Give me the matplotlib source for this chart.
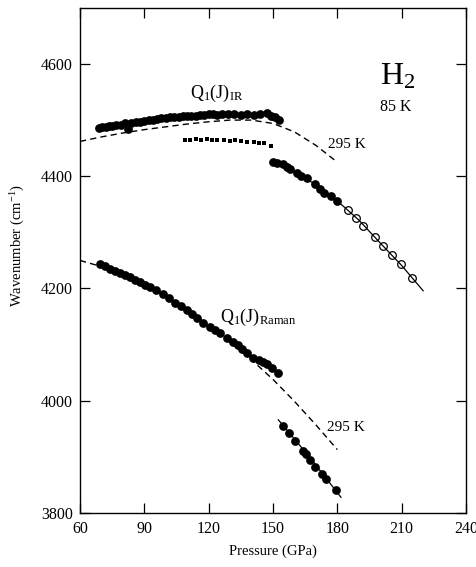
import matplotlib
matplotlib.use("Agg")
import matplotlib.pyplot as plt

plt.rcParams['font.family'] = ['Liberation Serif', 'DejaVu Serif']
plt.rcParams['mathtext.fontset'] = 'custom'
plt.rcParams['mathtext.rm'] = 'Liberation Serif'
plt.rcParams['mathtext.it'] = 'Liberation Serif:italic'

# ---------------- data ----------------
# Q1(J)_IR, 85 K, filled circles (low-pressure phase)
ir_p = [69, 70.5, 72, 73.5, 75, 77, 79, 81, 82.5, 84, 86, 88, 90, 92, 94, 96, 98,
        100, 102, 104, 106, 108, 110, 112, 114, 116, 118, 120, 122, 124, 126, 129,
        132, 135, 138, 141, 144, 147, 149, 151, 153]
ir_w = [4486, 4487, 4488, 4489, 4490, 4491, 4492, 4494, 4484, 4495, 4496, 4497, 4499,
        4500, 4501, 4502, 4503, 4504, 4505, 4506, 4506, 4507, 4508, 4508, 4508, 4509,
        4509, 4510, 4510, 4509, 4511, 4510, 4510, 4509, 4510, 4509, 4511, 4512, 4508,
        4505, 4501]

# IR, small squares
sq_p = [109, 111.5, 114, 116.5, 119, 121.5, 124, 127, 130, 132.5, 135, 138, 141,
        143.5, 146, 149]
sq_w = [4464, 4465, 4466, 4465, 4466, 4465, 4465, 4464, 4463, 4464, 4462, 4461, 4461,
        4460, 4459, 4453]

# IR, high-pressure phase, filled circles
irh_p = [150, 152, 154.7, 156.5, 158, 161, 163, 166, 169.6, 172, 174, 177, 180]
irh_w = [4426, 4424, 4422, 4417, 4413, 4406, 4401, 4396, 4387, 4378, 4371, 4364, 4356]
# IR, high-pressure phase, open circles
iro_p = [185, 188.7, 192, 197.6, 201.3, 205.5, 209.7, 214.8]
iro_w = [4339, 4326, 4312, 4291, 4276, 4260, 4243, 4218]
# solid fit through high-pressure IR
irfit_p = [153, 160, 170, 180, 190, 200, 210, 220]
irfit_w = [4425, 4408, 4385, 4356, 4322, 4281, 4241, 4196]

# IR at 295 K (dashed)
ir295_p = [60, 70, 80, 90, 100, 110, 120, 130, 140, 150, 160, 170, 180]
ir295_w = [4462, 4470, 4477, 4483, 4488, 4493, 4497, 4500, 4500, 4494, 4479, 4455, 4425]

# Q1(J)_Raman, 85 K, filled circles
ra_p = [69.3, 71.5, 74, 76.5, 78.7, 81, 83.3, 85.5, 88, 90.3, 92.6, 95.5, 98.7, 101.5,
        104.3, 107, 109.9, 112.3, 114.6, 117.5, 120.6, 123, 125.3, 128.5, 131.4, 133.5,
        135.6, 138, 140.7, 143.5, 145.5, 147.2, 149.5, 152.4]
ra_w = [4244, 4240, 4235, 4231, 4227, 4224, 4220, 4215, 4211, 4207, 4202, 4197, 4191,
        4183, 4175, 4168, 4161, 4154, 4147, 4139, 4131, 4126, 4120, 4112, 4104, 4099,
        4093, 4085, 4077, 4072, 4069, 4066, 4058, 4049]

# Raman high-pressure phase
rah_p = [154.5, 157.6, 160.3, 164, 165.4, 167.3, 169.6, 172.9, 174.7, 179.4]
rah_w = [3955, 3942, 3928, 3910, 3905, 3894, 3882, 3869, 3860, 3841]
rafit_p = [152.5, 167, 181.7]
rafit_w = [3966, 3900, 3828]

# Raman at 295 K (dashed)
ra295_p = [60, 70, 80, 90, 100, 110, 120, 130, 140, 150, 160, 170, 180]
ra295_w = [4250, 4239, 4225, 4207, 4186, 4162, 4134, 4104, 4073, 4038, 3999, 3957, 3913]

x_ticks = [60, 90, 120, 150, 180, 210, 240]
y_ticks = [3800, 4000, 4200, 4400, 4600]

# ---------------- figure ----------------
fig = plt.figure(figsize=(4.76, 5.67), dpi=100)
ax = fig.add_axes([0.168, 0.0952, 0.811, 0.891])

dash = (0, (4.5, 3))
ax.plot(ir295_p, ir295_w, color='black', lw=1.0, linestyle=dash)
ax.plot(ra295_p, ra295_w, color='black', lw=1.0, linestyle=dash)

ax.plot(irfit_p, irfit_w, color='black', lw=0.9)
ax.plot(rafit_p, rafit_w, color='black', lw=0.9)

ms = 6.3
ax.plot(ir_p, ir_w, 'o', color='black', ms=ms, mew=0)
ax.plot(sq_p, sq_w, 's', color='black', ms=2.8, mew=0)
ax.plot(irh_p, irh_w, 'o', color='black', ms=ms, mew=0)
ax.plot(iro_p, iro_w, 'o', mfc='none', mec='black', ms=5.5, mew=0.9)
ax.plot(ra_p, ra_w, 'o', color='black', ms=ms, mew=0)
ax.plot(rah_p, rah_w, 'o', color='black', ms=ms, mew=0)

ax.set_xlim(60, 240)
ax.set_ylim(3800, 4700)
ax.set_xticks(x_ticks)
ax.set_yticks(y_ticks)
ax.tick_params(direction='in', length=7, width=0.9, top=True, right=True,
               labelsize=11.5, pad=6)
ax.tick_params(axis='y', pad=5)
for s in ax.spines.values():
    s.set_linewidth(1.0)

ax.set_xlabel('Pressure (GPa)', fontsize=10.5, labelpad=5)
ax.set_ylabel('Wavenumber (cm$^{-1}$)', fontsize=10.5)
ax.yaxis.set_label_coords(-0.138, 0.53)

ax.text(111.3, 4540, 'Q$_1$(J)$_{\\mathrm{IR}}$', fontsize=13)
ax.text(125.3, 4140, 'Q$_1$(J)$_{\\mathrm{Raman}}$', fontsize=13)
ax.text(175.7, 4451, '295 K', fontsize=11)
ax.text(175.2, 3947, '295 K', fontsize=11)
ax.text(200, 4564, 'H$_2$', fontsize=23)
ax.text(200, 4516, '85 K', fontsize=11.5)

fig.savefig('out.png', dpi=100)
